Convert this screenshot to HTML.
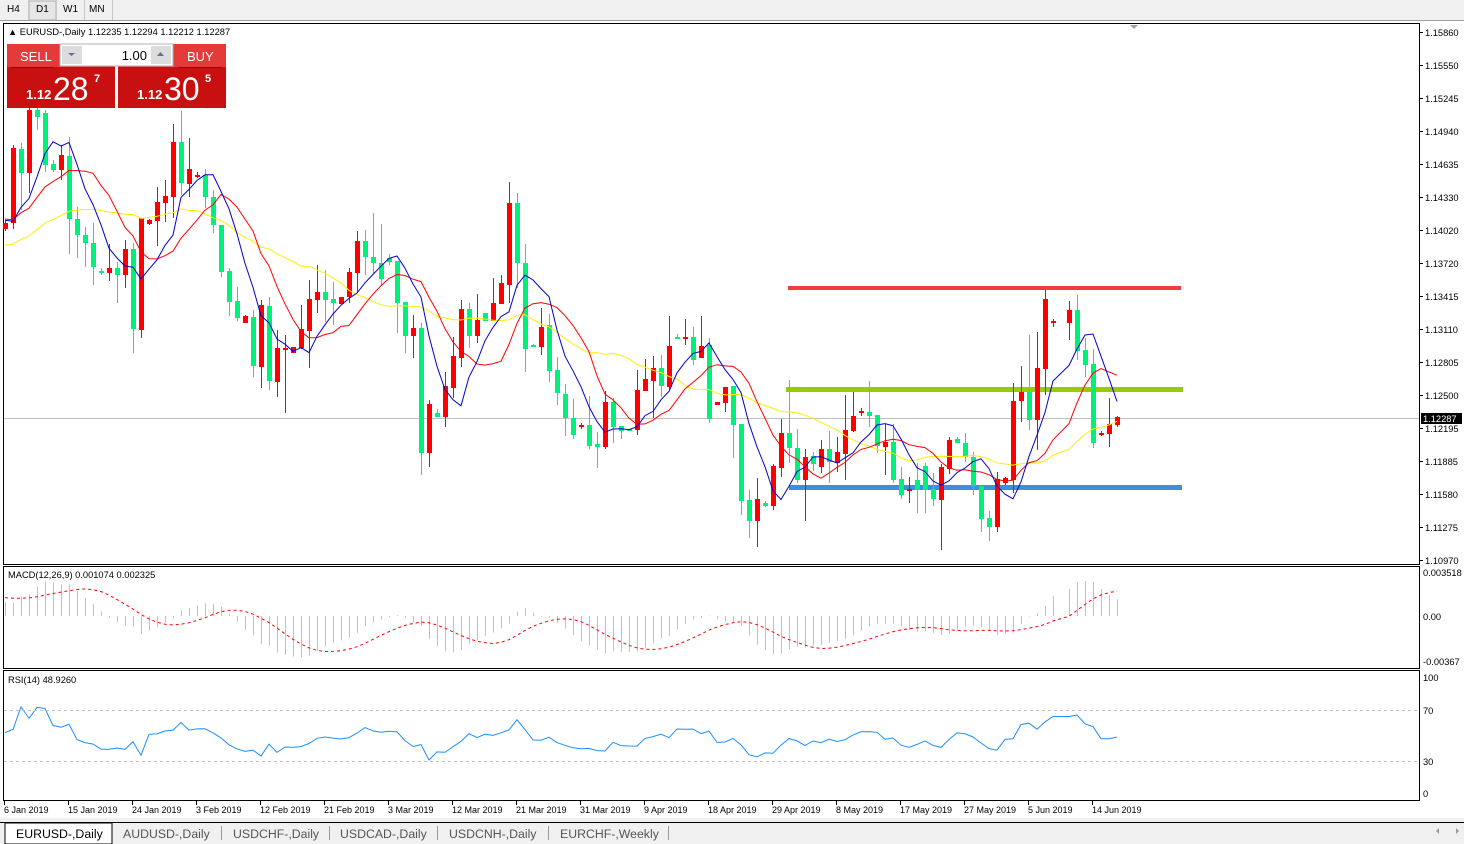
<!DOCTYPE html>
<html><head><meta charset="utf-8">
<style>
html,body{margin:0;padding:0;width:1464px;height:844px;overflow:hidden;background:#fff;font-family:"Liberation Sans","DejaVu Sans",sans-serif;}
svg{position:absolute;left:0;top:0}
</style></head>
<body>
<svg id="s" width="1464" height="844" xmlns="http://www.w3.org/2000/svg" font-family="Liberation Sans, DejaVu Sans, sans-serif">
<rect x="0" y="0" width="1464" height="21" fill="#f0f0f0"/>
<line x1="0" y1="20.5" x2="1464" y2="20.5" stroke="#a0a0a0"/>
<rect x="29" y="1" width="27" height="19" fill="#e6e6e6" stroke="#b0b0b0"/>
<line x1="28.5" y1="0" x2="28.5" y2="20" stroke="#c8c8c8"/><line x1="56.5" y1="0" x2="56.5" y2="20" stroke="#c8c8c8"/><line x1="84.5" y1="0" x2="84.5" y2="20" stroke="#c8c8c8"/><line x1="112.5" y1="0" x2="112.5" y2="20" stroke="#c8c8c8"/>
<g font-size="10" fill="#000"><text x="7" y="12">H4</text><text x="36" y="12">D1</text><text x="63" y="12">W1</text><text x="89" y="12">MN</text></g>
<rect x="3.5" y="23.5" width="1416" height="541" fill="none" stroke="#000"/>
<rect x="3.5" y="566.5" width="1416" height="102" fill="none" stroke="#000"/>
<rect x="3.5" y="670.5" width="1416" height="130" fill="none" stroke="#000"/>
<line x1="4" y1="418.5" x2="1419" y2="418.5" stroke="#c0c0c0"/>
<polygon points="1130,25 1138,25 1134,29" fill="#a0a0a0"/>
<g id="levels">
<rect x="788" y="286" width="393" height="4" fill="#f33b3b"/>
<rect x="786" y="387" width="397" height="5" fill="#99cc00"/>
<rect x="789" y="485" width="393" height="5" fill="#3a8fdf"/>
</g>
<g id="candles"></g>
<g id="mas"></g>
<g id="macd"></g>
<g id="rsi"></g>
<line x1="4" y1="710.5" x2="1419" y2="710.5" stroke="#c0c0c0" stroke-dasharray="3,3"/>
<line x1="4" y1="761.5" x2="1419" y2="761.5" stroke="#c0c0c0" stroke-dasharray="3,3"/>
<g font-size="9.3" fill="#000">
<text x="8" y="35">▲ EURUSD-,Daily  1.12235 1.12294 1.12212 1.12287</text>
<text x="8" y="578">MACD(12,26,9) 0.001074 0.002325</text>
<text x="8" y="683">RSI(14) 48.9260</text>
</g>
<g id="axis" font-size="9.3" fill="#000"></g>
<rect x="1421" y="413" width="41" height="11" fill="#000"/>
<text x="1423" y="422" font-size="9.3" fill="#fff">1.12287</text>
<g font-size="9.3" fill="#000">
<text x="1423" y="576">0.003518</text><text x="1423" y="620">0.00</text><text x="1423" y="665">-0.00367</text>
<text x="1423" y="681">100</text><text x="1423" y="714">70</text><text x="1423" y="765">30</text><text x="1423" y="797">0</text>
</g>
<g id="dates" font-size="9" fill="#000"></g>
<rect x="7" y="44" width="108" height="23" fill="#e43a3a"/>
<rect x="118" y="44" width="108" height="23" fill="#e43a3a"/>
<rect x="7" y="67" width="108" height="41" fill="#c81010"/>
<rect x="118" y="67" width="108" height="41" fill="#c81010"/>
<line x1="11" y1="67.5" x2="54" y2="67.5" stroke="#9a0000"/><line x1="178" y1="67.5" x2="222" y2="67.5" stroke="#9a0000"/>
<rect x="60" y="44" width="113" height="22" fill="#fff" stroke="#b0b0b0"/>
<rect x="62" y="46" width="20" height="18" fill="#dcdcdc"/><rect x="151" y="46" width="20" height="18" fill="#dcdcdc"/>
<polygon points="68,53 75,53 71.5,56" fill="#6070a0"/><polygon points="157,56 164,56 160.5,52" fill="#6070a0"/>
<text x="147" y="60" font-size="13" fill="#000" text-anchor="end">1.00</text>
<text x="20" y="61" font-size="13" fill="#fff">SELL</text>
<text x="187" y="61" font-size="13" fill="#fff">BUY</text>
<text x="26" y="99" font-size="13" font-weight="bold" fill="#fff">1.12</text>
<text x="53" y="100" font-size="32" fill="#fff">28</text>
<text x="94" y="82" font-size="11" font-weight="bold" fill="#fff">7</text>
<text x="137" y="99" font-size="13" font-weight="bold" fill="#fff">1.12</text>
<text x="164" y="100" font-size="32" fill="#fff">30</text>
<text x="205" y="82" font-size="11" font-weight="bold" fill="#fff">5</text>
<rect x="0" y="818" width="1464" height="26" fill="#f0f0f0"/>
<line x1="0" y1="822.5" x2="1464" y2="822.5" stroke="#000"/>
<rect x="5" y="823" width="107" height="21" fill="#fff" stroke="#000"/>
<g font-size="12.3" fill="#555">
<text x="16" y="838" fill="#000">EURUSD-,Daily</text>
<text x="123" y="838">AUDUSD-,Daily</text>
<text x="233" y="838">USDCHF-,Daily</text>
<text x="340" y="838">USDCAD-,Daily</text>
<text x="449" y="838">USDCNH-,Daily</text>
<text x="560" y="838">EURCHF-,Weekly</text>
</g>
<g stroke="#999"><line x1="221.5" y1="826" x2="221.5" y2="840"/><line x1="329.5" y1="826" x2="329.5" y2="840"/><line x1="437.5" y1="826" x2="437.5" y2="840"/><line x1="548.5" y1="826" x2="548.5" y2="840"/><line x1="668.5" y1="826" x2="668.5" y2="840"/></g>
<polygon points="1436,831 1439,828 1439,834" fill="#999"/>
<polygon points="1456,828 1456,834 1459,831" fill="#999"/>
</svg>
<script>
var D=[
['R',223,229,221,231],['R',148,223,145,229],['G',149,173,143,210],['R',110,173,108,193],['G',110,117,105,130],
['G',113,165,110,172],['G',164,170,160,172],['R',155,170,145,180],['G',156,219,137,254],['G',219,235,207,258],
['G',235,243,227,267],['G',243,267,223,285],['G',271,273,268,275],['R',268,273,244,281],['G',268,275,262,303],
['R',249,275,240,288],['G',249,329,243,353],['R',218,330,218,338],['R',220,224,219,225],['R',202,221,187,246],
['R',196,203,180,222],['R',142,197,124,218],['G',142,183,111,195],['R',169,184,138,197],['R',175,176,172,178],
['G',175,197,169,208],['G',197,225,190,233],['G',225,272,225,277],['G',271,302,268,316],['G',301,318,287,321],
['R',316,323,315,323],['G',317,366,310,377],['R',305,367,300,388],['G',306,381,297,390],['R',348,382,330,397],
['R',348,349,335,413],['R',347,353,347,353],['R',329,348,305,349],['R',299,331,280,368],['R',292,300,265,313],
['G',292,300,270,322],['G',299,303,282,325],['R',297,304,297,304],['R',272,297,268,303],['R',241,273,231,293],
['G',241,257,230,275],['G',257,263,213,274],['G',263,279,224,285],['G',258,262,254,265],['G',261,303,261,333],
['G',302,336,302,353],['R',328,336,315,358],['G',328,453,323,475],['R',404,453,400,467],['G',413,417,409,417],
['R',386,417,372,427],['R',356,388,337,398],['R',309,358,300,367],['G',309,336,303,348],['R',320,336,294,343],
['G',313,321,313,321],['R',303,321,278,321],['R',283,304,275,304],['R',203,285,182,303],['G',203,263,193,288],
['G',263,349,244,372],['G',345,347,344,347],['R',327,347,308,355],['G',325,371,314,382],['G',370,393,357,405],
['G',394,418,384,436],['G',418,435,399,439],['R',425,427,423,429],['G',425,446,396,449],['G',444,447,432,468],
['R',402,447,391,449],['G',402,427,398,443],['G',426,431,426,439],['G',429,431,429,431],['R',390,430,370,435],
['R',379,391,359,391],['R',368,381,356,418],['G',368,386,355,397],['R',346,387,316,390],['G',337,339,334,339],
['R',337,338,319,345],['G',337,360,327,365],['R',346,358,316,358],['G',345,419,338,423],['R',402,405,402,405],
['R',387,403,387,412],['G',386,425,386,458],['G',424,501,424,515],['G',500,521,490,538],['R',499,521,478,547],
['G',503,506,501,507],['R',466,506,464,510],['R',433,468,419,477],['G',433,448,380,463],['G',448,480,429,483],
['R',457,480,449,521],['G',456,464,452,471],['R',449,467,440,473],['G',449,462,431,483],['R',452,463,437,472],
['R',430,454,395,480],['R',416,431,392,432],['R',411,413,408,416],['G',412,416,381,427],['G',415,446,415,453],
['R',442,447,424,475],['G',442,480,424,483],['G',479,495,467,499],['R',489,491,477,503],['G',480,490,463,513],
['G',466,490,463,513],['G',489,499,473,506],['R',467,500,464,550],['R',440,469,437,474],['G',439,443,437,443],
['G',443,457,433,462],['G',457,486,452,495],['G',486,519,486,532],['G',518,527,511,541],['R',479,527,472,532],
['R',478,483,477,485],['R',401,480,383,493],['R',392,401,366,422],['G',392,420,335,430],['R',368,420,332,450],
['R',299,369,290,395],['R',321,323,319,327],null,['R',310,323,301,340],['G',310,351,295,360],
['G',350,365,338,377],['G',364,443,349,448],['R',433,434,431,436],['R',424,434,398,447],['R',417,425,416,427]
];
var NS="http://www.w3.org/2000/svg";
function el(p,t,a){var e=document.createElementNS(NS,t);for(var k in a)e.setAttribute(k,a[k]);p.appendChild(e);return e;}
var cg=document.getElementById('candles'),mg=document.getElementById('mas'),mc=document.getElementById('macd'),rg=document.getElementById('rsi');
var xs=[],cl=[];
D.forEach(function(c,k){if(!c)return;var x=5+8*k;xs.push(x);
 var col=c[0]=='G'?'#00f07a':'#ff0000';
 el(cg,'rect',{x:x,y:c[3],width:1,height:Math.max(1,c[4]-c[3]),fill:col});
 el(cg,'rect',{x:x-2,y:c[1],width:5,height:Math.max(2,c[2]-c[1]),fill:col});
 cl.push(c[0]=='G'?c[1]:c[2]);});
function ema(n,seed){var a=2/(n+1),v=seed,o=[];cl.forEach(function(c){v=v+a*(c-v);o.push(v);});return o;}
function sma(n,pad){var a=[];for(var i=0;i<n;i++)a.push(pad);a=a.concat(cl);var o=[];for(var i=0;i<cl.length;i++){var s=0;for(var j=0;j<n;j++)s+=a[i+n-j];o.push(s/n);}return o;}
function pl(arr,col,g,w){var d=arr.map(function(v,i){return (i?'L':'M')+xs[i]+' '+v.toFixed(1);}).join('');el(g||mg,'path',{d:d,fill:'none',stroke:col,'stroke-width':w||1});}
pl(sma(21,246),'#ffee00');pl(sma(10,218),'#ff0000');pl(sma(5,218),'#0000cc');
var e12=ema(12,cl[0]),e26=ema(26,cl[0]+13),m=[],sig=[];
for(var i=0;i<cl.length;i++){m.push(-(e12[i]-e26[i])*12223/10798);}
for(var i=0;i<m.length;i++){var s=0,n=0;for(var j=Math.max(0,i-8);j<=i;j++){s+=m[j];n++;}var pad=9-n;s+=pad*19;sig.push(s/9);}
for(var i=0;i<m.length;i++){var h=Math.max(-48,Math.min(48,m[i]));el(mc,'line',{x1:xs[i]+0.5,x2:xs[i]+0.5,y1:616,y2:616-h,stroke:'#c0c0c0'});}
el(mc,'path',{d:sig.map(function(v,i){return (i?'L':'M')+xs[i]+' '+(616-v).toFixed(1);}).join(''),fill:'none',stroke:'#ff0000','stroke-dasharray':'3,3'});
var ag=4.2,al=3.8,r=[];
for(var i=0;i<cl.length;i++){var d=i?cl[i-1]-cl[i]:0;var g=d>0?d:0,l=d<0?-d:0;ag=(ag*13+g)/14;al=(al*13+l)/14;r.push(100-100/(1+ag/al));}
el(rg,'path',{d:r.map(function(v,i){return (i?'L':'M')+xs[i]+' '+(793-v*1.15).toFixed(1);}).join(''),fill:'none',stroke:'#1e90ff'});
var ax=document.getElementById('axis');
['1.15860','1.15550','1.15245','1.14940','1.14635','1.14330','1.14020','1.13720','1.13415','1.13110','1.12805','1.12500','1.12195','1.11885','1.11580','1.11275','1.10970'].forEach(function(t,i){var y=32+33*i;el(ax,'line',{x1:1419,x2:1423,y1:y+.5,y2:y+.5,stroke:'#000'});var e=el(ax,'text',{x:1425,y:y+4});e.textContent=t;});
var dg=document.getElementById('dates');
['6 Jan 2019','15 Jan 2019','24 Jan 2019','3 Feb 2019','12 Feb 2019','21 Feb 2019','3 Mar 2019','12 Mar 2019','21 Mar 2019','31 Mar 2019','9 Apr 2019','18 Apr 2019','29 Apr 2019','8 May 2019','17 May 2019','27 May 2019','5 Jun 2019','14 Jun 2019'].forEach(function(t,i){var x=4+64*i;el(dg,'line',{x1:x+.5,x2:x+.5,y1:800,y2:805,stroke:'#000'});var e=el(dg,'text',{x:x,y:813});e.textContent=t;});
</script>
</body></html>
